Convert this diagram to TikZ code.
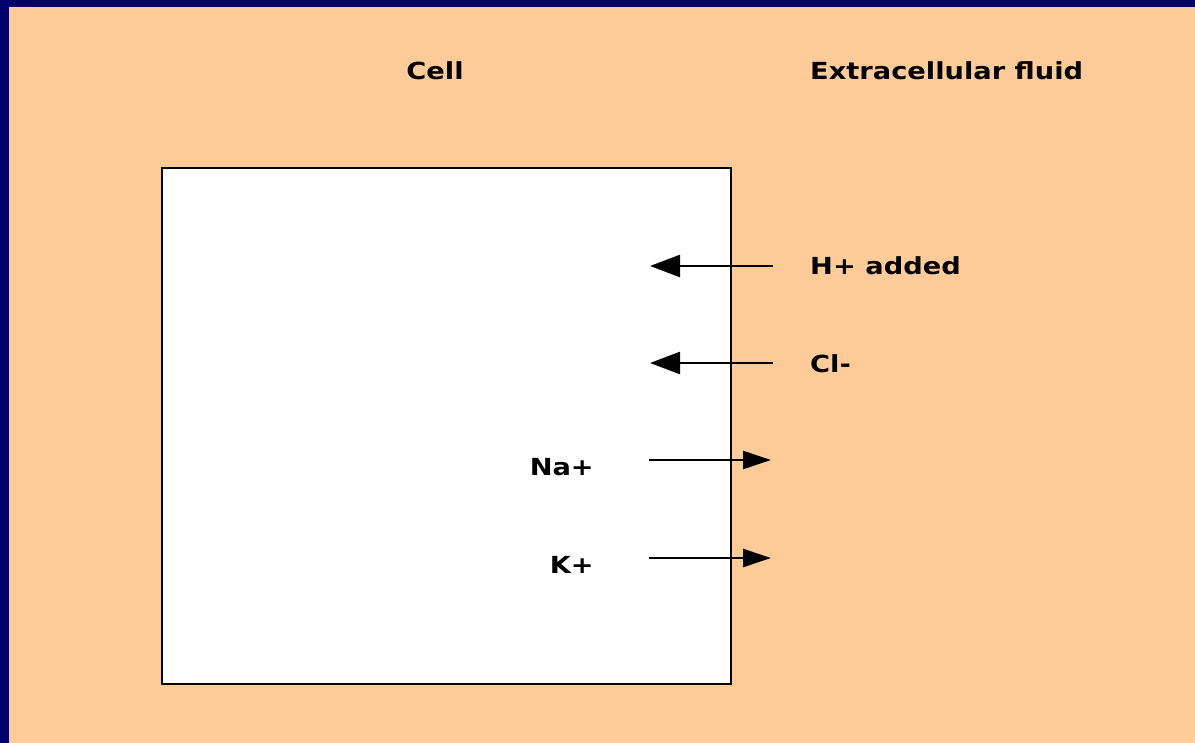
\documentclass[tikz,border=0pt]{standalone}
\usepackage{fontspec}
\setmainfont{DejaVu Sans}[FakeStretch=1.16]
\usetikzlibrary{arrows.meta}
\definecolor{frame}{HTML}{000066}
\definecolor{fluid}{HTML}{FFCC99}
\tikzset{
  lbl/.style={font=\bfseries\fontsize{23.5}{25}\selectfont, inner sep=0pt, text=black},
  flux/.style={line width=2.5pt, -{Triangle[length=30pt,width=22pt]}},
  fluxout/.style={line width=2.5pt, -{Triangle[length=28pt,width=18pt]}},
  cellbox/.style={draw=black, fill=white, line width=2.5pt, minimum width=569pt,
                  minimum height=516pt, inner sep=0pt, outer sep=0pt}
}
\begin{document}
\begin{tikzpicture}[x=1pt,y=-1pt]
  % background with dark frame on top and left
  \fill[frame] (0,0) rectangle (1195,743);
  \fill[fluid] (9,7) rectangle (1195,743);
  \useasboundingbox (0,0) rectangle (1195,743);

  % the cell
  \node[cellbox] (cell) at (446.5,426) {};

  % headings
  \node[lbl] (hcell) at (435,71) {Cell};
  \node[lbl, anchor=west] (hecf) at (810,71) {Extracellular fluid};

  % ion movements into the cell
  \coordinate (hout) at (773,266);
  \coordinate (hin) at (650,266);
  \draw[flux] (hout) -- (hin);
  \node[lbl, anchor=west] (hlab) at (810,266) {H+ added};

  \coordinate (clout) at (773,363);
  \coordinate (clin) at (650,363);
  \draw[flux] (clout) -- (clin);
  \node[lbl, anchor=west] (cllab) at (810,364) {Cl-};

  % ion movements out of the cell
  \coordinate (nain) at (649,460);
  \coordinate (naout) at (771,460);
  \draw[fluxout] (nain) -- (naout);
  \node[lbl, anchor=east] (nalab) at (594,467) {Na+};

  \coordinate (kin) at (649,558);
  \coordinate (kout) at (771,558);
  \draw[fluxout] (kin) -- (kout);
  \node[lbl, anchor=east] (klab) at (594,565) {K+};
\end{tikzpicture}
\end{document}
